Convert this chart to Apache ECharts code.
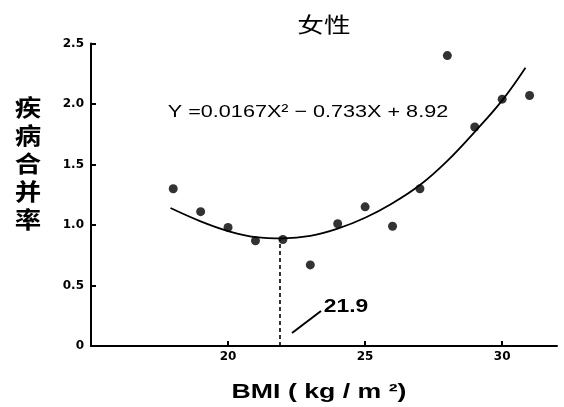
<!DOCTYPE html>
<html>
<head>
<meta charset="utf-8">
<script src="https://cdn.jsdelivr.net/npm/echarts@6/dist/echarts.min.js"></script>
<style>html,body{margin:0;padding:0;background:#fff;}#c{width:564px;height:407px;}</style>
</head>
<body>
<div id="c"></div>
<script>
// Observed points (BMI, comorbidity rate)
var bmi = [18, 19, 20, 21, 22, 23, 24, 25, 26, 27, 28, 29, 30, 31];
var rate = [1.30, 1.11, 0.98, 0.87, 0.88, 0.67, 1.01, 1.15, 0.99, 1.30, 2.40, 1.81, 2.04, 2.07];
// Fitted curve
var curveX = [17.9, 19, 20, 21, 22, 23, 24, 25, 26, 27, 28, 29, 30, 30.85];
var curveY = [1.14, 1.03, 0.95, 0.90, 0.89, 0.91, 0.97, 1.06, 1.18, 1.33, 1.53, 1.77, 2.03, 2.30];
var minBMI = 21.9;
var minRate = 0.88;
var xTicks = [20, 25, 30];
var yTicks = [0, 0.5, 1.0, 1.5, 2.0, 2.5];

var chart = echarts.init(document.getElementById('c'));
var SX = 1.27;
var tickFont = { fontFamily: 'DejaVu Sans', fontWeight: 'bold', fontSize: 12, color: '#000' };
chart.setOption({
  animation: false,
  backgroundColor: '#fff',
  grid: { left: 91, top: 43.5, width: 466, height: 302.5, containLabel: false },
  xAxis: {
    type: 'value', min: 15, max: 32, interval: 5,
    splitLine: { show: false },
    axisLine: { lineStyle: { color: '#000', width: 2 } },
    axisTick: { inside: true, length: 5, lineStyle: { color: '#000', width: 2 }, customValues: xTicks },
    axisLabel: Object.assign({ margin: 5, customValues: xTicks }, tickFont)
  },
  yAxis: {
    type: 'value', min: 0, max: 2.5, interval: 0.5,
    splitLine: { show: false },
    axisLine: { show: true, lineStyle: { color: '#000', width: 2 } },
    axisTick: { show: true, inside: true, length: 5, lineStyle: { color: '#000', width: 2 }, customValues: yTicks },
    axisLabel: Object.assign({ margin: 7, customValues: yTicks, formatter: function (v) { return v === 0 ? '0' : v.toFixed(1); } }, tickFont)
  },
  series: [
    {
      type: 'line', data: curveX.map(function (x, i) { return [x, curveY[i]]; }),
      smooth: 0.4, showSymbol: false, symbol: 'none',
      lineStyle: { color: '#000', width: 1.8 }, z: 2
    },
    {
      type: 'scatter', data: bmi.map(function (x, i) { return [x, rate[i]]; }),
      symbolSize: 9, itemStyle: { color: '#000' }, z: 3,
      markLine: {
        silent: true, symbol: ['none', 'none'], label: { show: false },
        lineStyle: { color: '#000', width: 1.6, type: [4, 3] },
        data: [[{ coord: [minBMI, 0] }, { coord: [minBMI, minRate] }]]
      }
    }
  ],
  graphic: [
    { type: 'text', x: 324, y: 24, scaleX: SX, style: { text: '女性', fontFamily: 'Noto Sans CJK SC', fontSize: 21, fill: '#000', align: 'center', verticalAlign: 'middle' } },
    { type: 'text', x: 28, y: 163, scaleX: 1.15, style: { text: '疾\n病\n合\n并\n率', fontFamily: 'Noto Sans CJK SC', fontWeight: 'bold', fontSize: 23, lineHeight: 28, fill: '#000', align: 'center', verticalAlign: 'middle' } },
    { type: 'text', x: 319, y: 392, scaleX: SX, style: { text: 'BMI ( kg / m ²)', fontFamily: 'Liberation Sans', fontWeight: 'bold', fontSize: 21, fill: '#000', align: 'center', verticalAlign: 'middle' } },
    { type: 'text', x: 308, y: 112, scaleX: SX, style: { text: 'Y =0.0167X² − 0.733X + 8.92', fontFamily: 'Liberation Sans', fontSize: 17, fill: '#000', align: 'center', verticalAlign: 'middle' } },
    { type: 'text', x: 346, y: 307, scaleX: SX, style: { text: '21.9', fontFamily: 'Liberation Sans', fontWeight: 'bold', fontSize: 18, fill: '#000', align: 'center', verticalAlign: 'middle' } },
    { type: 'line', shape: { x1: 292, y1: 333, x2: 321, y2: 311 }, style: { stroke: '#000', lineWidth: 2 } }
  ]
});
</script>
</body>
</html>
